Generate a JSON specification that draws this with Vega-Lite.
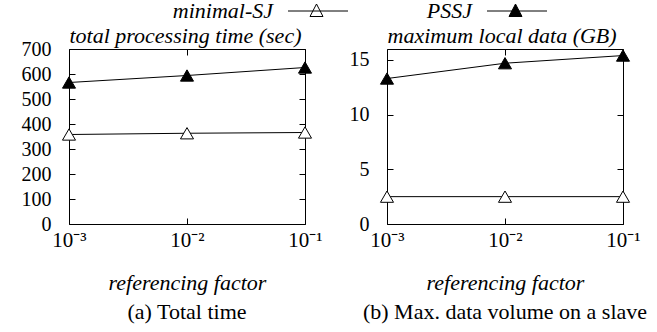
{
  "$schema": "https://vega.github.io/schema/vega-lite/v6.json",
  "padding": {"left": 20, "top": 0, "right": 5, "bottom": 5},
  "spacing": 25,
  "config": {
    "font": "Liberation Serif",
    "view": {"stroke": "black", "strokeWidth": 1},
    "axis": {
      "grid": false, "domain": false, "tickColor": "black", "tickSize": -6, "tickWidth": 1,
      "labelFont": "Liberation Serif", "labelFontSize": 20, "labelColor": "black",
      "titleColor": "black", "titleFont": "Liberation Serif", "titleFontStyle": "italic",
      "titleFontWeight": "normal", "titleFontSize": 22
    },
    "title": {"font": "Liberation Serif", "fontSize": 22, "fontWeight": "normal", "color": "black", "orient": "bottom", "offset": 9, "anchor": "middle"}
  },
  "datasets": {
    "time": [
      {"factor": 0.001, "series": "minimal-SJ", "value": 358},
      {"factor": 0.01, "series": "minimal-SJ", "value": 363},
      {"factor": 0.1, "series": "minimal-SJ", "value": 366},
      {"factor": 0.001, "series": "PSSJ", "value": 566},
      {"factor": 0.01, "series": "PSSJ", "value": 594},
      {"factor": 0.1, "series": "PSSJ", "value": 626}
    ],
    "vol": [
      {"factor": 0.001, "series": "minimal-SJ", "value": 2.5},
      {"factor": 0.01, "series": "minimal-SJ", "value": 2.5},
      {"factor": 0.1, "series": "minimal-SJ", "value": 2.5},
      {"factor": 0.001, "series": "PSSJ", "value": 13.3},
      {"factor": 0.01, "series": "PSSJ", "value": 14.7},
      {"factor": 0.1, "series": "PSSJ", "value": 15.4}
    ]
  },
  "hconcat": [
    {
      "width": 236, "height": 175,
      "data": {"name": "time"},
      "title": {"text": "(a) Total time"},
      "resolve": {"axis": {"x": "independent", "y": "independent"}},
      "layer": [
        {"mark": {"type": "line", "color": "black", "strokeWidth": 1},
          "encoding": {
            "x": {"field": "factor", "type": "quantitative",
              "scale": {"type": "log", "domain": [0.001, 0.1]},
              "axis": {"values": [0.001, 0.01, 0.1], "labelExpr": "datum.value < 0.005 ? '10\u207b\u00b3' : datum.value < 0.05 ? '10\u207b\u00b2' : '10\u207b\u00b9'",
                "title": "referencing factor", "labelFontSize": 21, "labelPadding": 11, "titlePadding": 22, "labelFlush": false}},
            "y": {"field": "value", "type": "quantitative",
              "scale": {"domain": [0, 700]},
              "axis": {"values": [0, 100, 200, 300, 400, 500, 600, 700], "title": "total processing time (sec)",
                "labelPadding": 24, "titleAngle": 0, "titleAlign": "left", "titleX": 0, "titleY": -7, "titleBaseline": "alphabetic"}},
            "detail": {"field": "series"}}},
        {"mark": {"type": "point", "shape": "triangle-up", "size": 170, "stroke": "black", "strokeWidth": 1, "opacity": 1, "filled": true},
          "encoding": {
            "x": {"field": "factor", "type": "quantitative", "scale": {"type": "log", "domain": [0.001, 0.1]}, "axis": null},
            "y": {"field": "value", "type": "quantitative", "scale": {"domain": [0, 700]}, "axis": null},
            "fill": {"field": "series", "type": "nominal",
            "scale": {"domain": ["minimal-SJ", "PSSJ"], "range": ["white", "black"]},
            "legend": {"orient": "none", "legendX": 196, "legendY": -49, "direction": "horizontal", "title": null,
              "symbolType": "M1.2,0H7.2M4.05,-0.7L4.7,0.55L3.4,0.55Z", "symbolSize": 400,
              "symbolStrokeColor": "black", "symbolStrokeWidth": 1, "symbolOpacity": 1,
              "labelAlign": "right", "labelOffset": -14, "labelFontSize": 22, "labelFontStyle": "italic", "labelFont": "Liberation Serif", "labelColor": "black",
              "columnPadding": 76}}}},
        {"mark": {"type": "point", "opacity": 0},
          "encoding": {
            "x": {"field": "factor", "type": "quantitative", "scale": {"type": "log", "domain": [0.001, 0.1]},
              "axis": {"orient": "top", "values": [0.001, 0.01, 0.1], "labels": false, "title": null}},
            "y": {"field": "value", "type": "quantitative", "scale": {"domain": [0, 700]},
              "axis": {"orient": "right", "values": [0, 100, 200, 300, 400, 500, 600, 700], "labels": false, "title": null}}
          }}
      ]
    },
    {
      "width": 236, "height": 175,
      "data": {"name": "vol"},
      "title": {"text": "(b) Max. data volume on a slave"},
      "resolve": {"axis": {"x": "independent", "y": "independent"}},
      "layer": [
        {"mark": {"type": "line", "color": "black", "strokeWidth": 1},
          "encoding": {
            "x": {"field": "factor", "type": "quantitative",
              "scale": {"type": "log", "domain": [0.001, 0.1]},
              "axis": {"values": [0.001, 0.01, 0.1], "labelExpr": "datum.value < 0.005 ? '10\u207b\u00b3' : datum.value < 0.05 ? '10\u207b\u00b2' : '10\u207b\u00b9'",
                "title": "referencing factor", "labelFontSize": 21, "labelPadding": 11, "titlePadding": 22, "labelFlush": false}},
            "y": {"field": "value", "type": "quantitative",
              "scale": {"domain": [0, 16]},
              "axis": {"values": [0, 5, 10, 15], "title": "maximum local data (GB)",
                "labelPadding": 24, "titleAngle": 0, "titleAlign": "left", "titleX": 0, "titleY": -7, "titleBaseline": "alphabetic"}},
            "detail": {"field": "series"}}},
        {"mark": {"type": "point", "shape": "triangle-up", "size": 170, "stroke": "black", "strokeWidth": 1, "opacity": 1, "filled": true},
          "encoding": {
            "x": {"field": "factor", "type": "quantitative", "scale": {"type": "log", "domain": [0.001, 0.1]}, "axis": null},
            "y": {"field": "value", "type": "quantitative", "scale": {"domain": [0, 16]}, "axis": null},
            "fill": {"field": "series", "type": "nominal",
            "scale": {"domain": ["minimal-SJ", "PSSJ"], "range": ["white", "black"]}, "legend": null}}},
        {"mark": {"type": "point", "opacity": 0},
          "encoding": {
            "x": {"field": "factor", "type": "quantitative", "scale": {"type": "log", "domain": [0.001, 0.1]},
              "axis": {"orient": "top", "values": [0.001, 0.01, 0.1], "labels": false, "title": null}},
            "y": {"field": "value", "type": "quantitative", "scale": {"domain": [0, 16]},
              "axis": {"orient": "right", "values": [0, 5, 10, 15], "labels": false, "title": null}}
          }}
      ]
    }
  ]
}
